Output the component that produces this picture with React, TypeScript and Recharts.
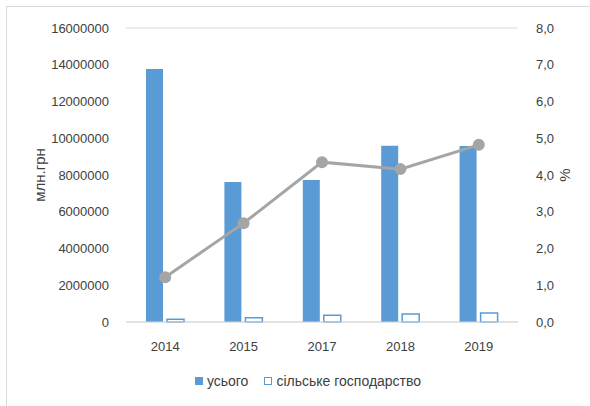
import React from 'react';
import { ComposedChart, Bar, Line, XAxis, YAxis, CartesianGrid } from 'recharts';

const years = ['2014', '2015', '2017', '2018', '2019'];
const total = [13770000, 7620000, 7730000, 9590000, 9580000];
const agriculture = [150000, 230000, 370000, 430000, 490000];
const share = [1.22, 2.69, 4.35, 4.16, 4.82];

const leftTicks = [0, 2000000, 4000000, 6000000, 8000000, 10000000, 12000000, 14000000, 16000000];
const rightTicks = [0, 1, 2, 3, 4, 5, 6, 7, 8];

const data = years.map((year, i) => ({
  year,
  total: total[i],
  agriculture: agriculture[i],
  share: share[i],
}));

const BLUE = '#5B9BD5';
const GRAY = '#A5A5A5';
const FONT = '"Liberation Sans", Arial, sans-serif';
const tickStyle = { fontSize: 13, fill: '#404040', fontFamily: FONT };

const App: React.FC = () => {
  return (
    <div style={{ position: 'absolute', left: 0, top: 0, width: 590, height: 406, overflow: 'hidden', background: '#fff', fontFamily: FONT }}>
      <div style={{ position: 'absolute', left: 6, top: 6, width: 700, height: 500, borderLeft: '1px solid #D9D9D9', borderTop: '1px solid #D9D9D9' }} />
      <ComposedChart
        width={590}
        height={406}
        data={data}
        margin={{ top: 28, right: 0, left: 0, bottom: 44 }}
        barSize={17}
        barGap={4}
      >
        <CartesianGrid vertical={false} stroke="#D9D9D9" />
        <XAxis
          dataKey="year"
          height={40}
          tickLine={false}
          axisLine={{ stroke: '#D9D9D9' }}
          tick={tickStyle}
          tickMargin={14}
        />
        <YAxis
          yAxisId="left"
          width={126}
          domain={[0, 16000000]}
          ticks={leftTicks}
          interval={0}
          tickLine={false}
          axisLine={false}
          tick={tickStyle}
          tickMargin={11}
          label={{ value: 'млн.грн', angle: -90, position: 'insideLeft', offset: 40, style: { fontSize: 15, fill: '#404040', fontFamily: FONT, textAnchor: 'middle' } }}
        />
        <YAxis
          yAxisId="right"
          orientation="right"
          width={72}
          domain={[0, 8]}
          ticks={rightTicks}
          interval={0}
          tickLine={false}
          axisLine={false}
          tick={tickStyle}
          tickMargin={12}
          tickFormatter={(v: number) => v.toFixed(1).replace('.', ',')}
          label={{ value: '%', angle: -90, position: 'insideRight', offset: 25, style: { fontSize: 15, fill: '#404040', fontFamily: FONT, textAnchor: 'middle' } }}
        />
        <Bar yAxisId="left" dataKey="total" name="усього" fill={BLUE} isAnimationActive={false} />
        <Bar yAxisId="left" dataKey="agriculture" name="сільське господарство" fill="#fff" stroke={BLUE} strokeWidth={1.5} isAnimationActive={false} />
        <Line
          yAxisId="right"
          dataKey="share"
          stroke={GRAY}
          strokeWidth={3}
          dot={{ r: 4.5, fill: GRAY, stroke: GRAY }}
          isAnimationActive={false}
        />
      </ComposedChart>
      <div style={{ position: 'absolute', top: 373, left: 0, width: 590, display: 'flex', justifyContent: 'center', alignItems: 'center', fontSize: 14, color: '#404040', paddingLeft: 26, boxSizing: 'border-box' }}>
        <span style={{ display: 'inline-block', width: 8, height: 8, background: BLUE, marginRight: 4 }} />
        <span style={{ marginRight: 16 }}>усього</span>
        <span style={{ display: 'inline-block', width: 6, height: 6, border: `1.5px solid ${BLUE}`, background: '#fff', marginRight: 4 }} />
        <span>сільське господарство</span>
      </div>
    </div>
  );
};

export default App;
